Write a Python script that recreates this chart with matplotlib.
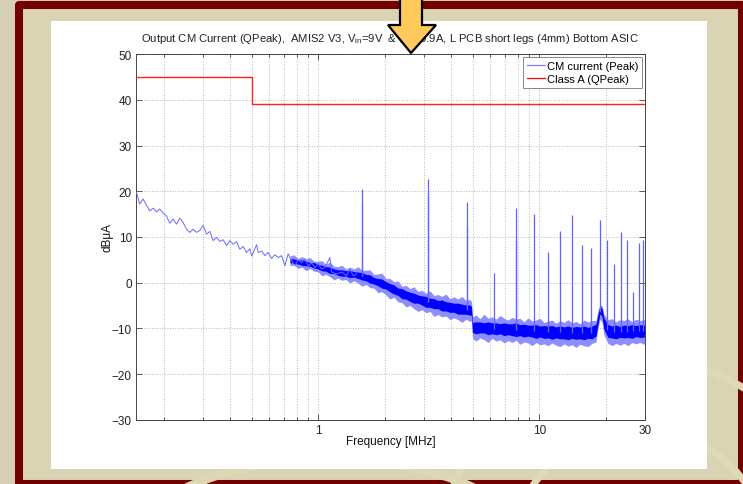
import numpy as np
import matplotlib
matplotlib.use("Agg")
import matplotlib.pyplot as plt
from matplotlib.patches import Rectangle, Polygon, Arc
from matplotlib.lines import Line2D
from matplotlib.ticker import NullFormatter

plt.rcParams['font.family'] = ['Liberation Sans', 'DejaVu Sans']
plt.rcParams['mathtext.fontset'] = 'custom'
plt.rcParams['mathtext.rm'] = 'Liberation Sans'
plt.rcParams['mathtext.default'] = 'regular'

# Class A limit (QPeak), dBuA
limite_f = [0.15, 0.5, 30]
limite_db = [45, 39, 39]

# CM current, low frequency part (single trace), MHz / dBuA
traza_f = [0.1508, 0.156, 0.1614, 0.1673, 0.1731, 0.1792, 0.1857, 0.1922, 0.1989, 0.2061,
           0.2133, 0.2208, 0.2288, 0.2367, 0.2449, 0.2538, 0.2627, 0.2719, 0.2818, 0.2915,
           0.3018, 0.3126, 0.3236, 0.3349, 0.3470, 0.3591, 0.3716, 0.3850, 0.3986, 0.4125,
           0.4273, 0.4422, 0.4577, 0.4742, 0.4909, 0.5000, 0.5263, 0.5353, 0.5545, 0.5738,
           0.5940, 0.6154, 0.6369, 0.6592, 0.6830, 0.7069, 0.7317, 0.7580, 0.7845, 0.8118,
           0.8411, 0.8706, 0.9012, 0.9335, 0.9662, 1.000, 1.036, 1.072, 1.129, 1.150,
           1.211, 1.276, 1.345, 1.391, 1.440, 1.492]
traza_db = [19.8, 17.2, 18.3, 17.0, 15.7, 16.3, 15.5, 16.1, 15.2, 14.6,
            13.0, 13.9, 12.8, 14.1, 13.2, 11.7, 11.0, 11.7, 11.0, 11.4,
            12.5, 10.6, 11.2, 9.2, 9.9, 9.0, 9.4, 8.1, 9.2, 8.4,
            9.0, 7.3, 7.9, 6.6, 7.4, 5.8, 8.3, 6.6, 6.9, 5.9,
            6.6, 5.3, 6.1, 5.5, 5.9, 3.7, 6.3, 4.8, 3.7, 5.0,
            4.4, 5.2, 3.7, 4.3, 3.3, 4.1, 3.0, 3.3, 5.5, 2.3,
            1.9, 2.3, 1.5, 3.0, 1.5, 1.9]

# CM current, dense part: centre of the noise band and its spread (dB)
banda_f = [0.745, 0.776, 0.809, 0.844, 0.880, 0.917, 0.956, 0.997, 1.039, 1.083,
           1.129, 1.178, 1.228, 1.280, 1.334, 1.391, 1.450, 1.512, 1.576, 1.643,
           1.713, 1.786, 1.862, 1.941, 2.024, 2.110, 2.199, 2.293, 2.390, 2.492,
           2.598, 2.708, 2.823, 2.943, 3.068, 3.199, 3.335, 3.476, 3.624, 3.778,
           3.939, 4.106, 4.281, 4.463, 4.652, 4.850, 4.93, 4.98, 5.17, 5.39,
           5.62, 5.86, 6.11, 6.37, 6.64, 6.92, 7.21, 7.52, 7.84, 8.17,
           8.52, 8.88, 9.26, 9.65, 10.06, 10.49, 10.94, 11.40, 11.88, 12.39,
           12.92, 13.46, 14.04, 14.63, 15.25, 15.90, 16.58, 17.28, 18.01, 18.39,
           18.78, 19.17, 19.57, 20.41, 21.27, 22.18, 23.12, 24.10, 25.13, 26.19,
           27.31, 28.47, 29.67, 30.0]
banda_centro = [4.8, 4.7, 4.5, 4.4, 4.2, 4.0, 3.8, 3.5, 3.2, 3.0,
                2.7, 2.5, 2.2, 2.1, 2.0, 1.9, 1.8, 1.6, 1.4, 1.1,
                0.8, 0.4, 0.1, -0.2, -0.6, -1.1, -1.5, -2.0, -2.4, -2.7,
                -3.1, -3.4, -3.6, -3.9, -4.2, -4.4, -4.6, -4.8, -5.0, -5.2,
                -5.4, -5.5, -5.7, -5.8, -5.9, -6.0, -6.2, -9.8, -9.9, -9.8,
                -9.9, -10.0, -10.0, -10.1, -10.1, -10.2, -10.2, -10.3, -10.3, -10.4,
                -10.5, -10.5, -10.6, -10.7, -10.7, -10.8, -10.8, -10.9, -10.9, -10.9,
                -11.0, -11.0, -11.0, -11.0, -11.0, -11.0, -11.0, -10.9, -10.4, -8.0,
                -6.0, -6.5, -9.0, -10.6, -10.8, -10.8, -10.8, -10.7, -10.7, -10.7,
                -10.6, -10.6, -10.6, -10.6]
banda_arriba = [1.0, 1.4, 0.8, 1.3, 1.0, 1.5, 0.9, 1.2, 1.6, 1.0,
                1.8, 1.1, 1.3, 1.7, 1.0, 1.5, 1.2, 1.9, 1.3, 1.6,
                2.0, 1.4, 1.8, 2.3, 1.5, 2.0, 1.7, 2.4, 1.6, 2.1,
                1.8, 2.5, 1.7, 2.2, 1.9, 2.6, 1.8, 2.2, 2.0, 2.7,
                1.9, 2.4, 2.1, 2.8, 2.0, 2.3, 2.0, 2.3, 2.8, 1.9,
                3.0, 2.2, 2.5, 2.1, 2.9, 2.4, 2.0, 2.7, 2.3, 2.6,
                1.9, 2.8, 2.2, 2.5, 2.9, 2.1, 2.4, 2.7, 2.0, 2.6,
                2.3, 2.9, 2.2, 2.5, 2.0, 2.8, 2.4, 2.6, 2.1, 2.0,
                1.2, 1.5, 2.0, 2.5, 2.9, 2.2, 2.7, 2.4, 2.8, 2.1,
                2.6, 2.3, 2.5, 2.4]
banda_abajo = [1.1, 0.8, 1.4, 1.0, 1.6, 0.9, 1.3, 1.1, 1.7, 1.2,
               1.4, 1.9, 1.2, 1.6, 1.3, 2.0, 1.4, 1.7, 2.2, 1.5,
               1.9, 1.6, 2.3, 1.8, 2.1, 2.5, 1.7, 2.2, 2.0, 2.6,
               1.9, 2.3, 2.7, 2.0, 2.4, 1.9, 2.8, 2.2, 2.5, 2.1,
               2.7, 2.2, 2.4, 2.9, 2.1, 2.5, 2.2, 2.4, 2.9, 2.3,
               2.6, 3.1, 2.2, 2.7, 2.4, 3.0, 2.5, 2.8, 2.3, 3.1,
               2.5, 2.7, 3.2, 2.4, 2.9, 2.6, 3.0, 2.3, 2.8, 3.1,
               2.4, 2.9, 2.6, 3.2, 2.5, 2.8, 3.0, 2.4, 2.6, 2.0,
               2.0, 2.2, 2.4, 2.7, 3.0, 2.5, 2.9, 2.6, 3.1, 2.4,
               2.8, 2.5, 2.9, 2.6]
banda_nucleo = [0.4, 0.5, 0.4, 0.6, 0.5, 0.4, 0.6, 0.5, 0.6, 0.5,
                0.7, 0.5, 0.6, 0.7, 0.6, 0.8, 0.6, 0.7, 0.8, 0.7,
                0.9, 0.7, 0.8, 1.0, 0.8, 0.9, 1.0, 0.8, 1.1, 0.9,
                1.0, 1.1, 0.9, 1.0, 1.2, 1.0, 1.1, 0.9, 1.2, 1.0,
                1.1, 1.0, 1.2, 1.1, 1.0, 1.1, 1.0, 1.1, 1.3, 1.2,
                1.1, 1.4, 1.2, 1.3, 1.1, 1.4, 1.2, 1.3, 1.5, 1.2,
                1.4, 1.2, 1.3, 1.5, 1.2, 1.4, 1.3, 1.5, 1.2, 1.4,
                1.3, 1.5, 1.2, 1.4, 1.3, 1.5, 1.2, 1.4, 1.3, 1.0,
                0.8, 0.9, 1.2, 1.4, 1.3, 1.5, 1.2, 1.4, 1.3, 1.5,
                1.2, 1.4, 1.3, 1.3]

# narrow harmonics (spikes): frequency MHz, peak dBuA
picos_f = [1.57, 1.58, 3.12, 3.14, 4.69, 4.71, 6.26, 7.80, 7.82, 9.4,
           10.9, 12.4, 14.1, 15.6, 17.1, 18.7, 20.3, 21.8, 23.4, 25.0,
           26.5, 28.1, 29.5]
picos_db = [20.5, 17.6, 19.0, 22.7, 17.6, 12.5, 2.0, 9.4, 16.3, 15.0,
            6.6, 11.4, 14.8, 8.3, 7.6, 13.6, 9.4, 4.1, 11.0, 9.3,
            -2.1, 8.6, 9.4]

titulo = ("Output CM Current (QPeak),  AMIS2 V3, V$_{in}$=9V  & I$_{out}$=0.9A, "
          "L PCB short legs (4mm) Bottom ASIC")

fig = plt.figure(figsize=(7.43, 4.85), dpi=100)
fig.patch.set_facecolor('#d6cfb6')

# slide background
bg = fig.add_axes([0, 0, 1, 1], zorder=0)
bg.set_xlim(0, 743)
bg.set_ylim(485, 0)
bg.axis('off')
bg.add_patch(Rectangle((19, 6), 722.5, 479, facecolor='#dbd4b4', edgecolor='#730000',
                       lw=5.8, joinstyle='round'))
for r in [130, 200]:
    bg.add_patch(Arc((640, 560), 2 * r, 2 * r, color='#dfd9b4', lw=5))
bg.add_patch(Arc((330, 590), 460, 260, color='#ddd7b3', lw=6))
bg.add_patch(Rectangle((51, 22), 656, 448, facecolor='white', edgecolor='none'))

# chart
ax = fig.add_axes([0.1830, 0.1326, 0.6851, 0.7536], zorder=1)
ax.set_xscale('log')
ax.set_axisbelow(True)

centro = np.array(banda_centro)
ax.fill_between(banda_f, centro - np.array(banda_abajo), centro + np.array(banda_arriba),
                color='#8e8eff', lw=0, zorder=2)
ax.fill_between(banda_f, centro - np.array(banda_nucleo), centro + np.array(banda_nucleo),
                color='#0000ff', lw=0, zorder=2)
ax.plot(traza_f, traza_db, color='#6a6aff', lw=0.7, zorder=3)

base = np.interp(np.log10(picos_f), np.log10(banda_f), centro)
ax.vlines(picos_f, base, picos_db, colors='#6262ff', lw=0.9, zorder=3)

ax.step(limite_f, limite_db, where='post', color='#ff2020', lw=1.0, zorder=4)

ax.set_xlim(0.15, 30)
ax.set_ylim(-30, 50)
ax.set_yticks(range(-30, 51, 10))
ax.set_xticks([1, 10, 30])
ax.set_xticklabels(['1', '10', '30'])
ax.set_xticks([0.2, 0.3, 0.4, 0.5, 0.6, 0.7, 0.8, 0.9,
               2, 3, 4, 5, 6, 7, 8, 9, 20], minor=True)
ax.xaxis.set_minor_formatter(NullFormatter())
ax.tick_params(which='both', direction='in', top=True, right=True,
               labelsize=8.5, labelcolor='#222222', color='#444444', width=0.6)
ax.tick_params(which='major', length=4, pad=3)
ax.tick_params(which='minor', length=2.5)
ax.grid(True, which='both', axis='x', ls=':', color='#b8b8b8', lw=0.7)
ax.grid(True, which='major', axis='y', ls=':', color='#b8b8b8', lw=0.7)
for s in ax.spines.values():
    s.set_color('#444444')
    s.set_linewidth(0.7)

ax.set_xlabel('Frequency [MHz]', fontsize=8.5, color='#111111')
ax.xaxis.set_label_coords(0.5, -0.042)
ax.set_ylabel('dB\u03bcA', fontsize=8.5, color='#111111')
ax.yaxis.set_label_coords(-0.045, 0.5)
ax.text(0.498, 1.036, titulo, transform=ax.transAxes, ha='center', va='baseline',
        fontsize=8.1, color='#222222')

manejadores = [Line2D([], [], color='#8080ff', lw=0.9), Line2D([], [], color='#ff0000', lw=0.9)]
leg = ax.legend(manejadores, ['CM current (Peak)', 'Class A (QPeak)'], loc='upper right',
                fontsize=8, fancybox=False, edgecolor='#888888', framealpha=1,
                borderaxespad=0.25, handlelength=1.6, handletextpad=0.2,
                borderpad=0.35, labelspacing=0.3)
leg.get_frame().set_linewidth(0.7)
leg.set_zorder(6)

# orange arrow on top
top = fig.add_axes([0, 0, 1, 1], zorder=3)
top.set_xlim(0, 743)
top.set_ylim(485, 0)
top.axis('off')
flecha = [(400, -2), (422, -2), (422, 26), (436, 26), (411, 54), (388, 26), (400, 26)]
top.add_patch(Polygon(flecha, closed=True, facecolor='#ffc95c', edgecolor='black',
                      lw=1.6, joinstyle='miter'))

fig.savefig('out.png', dpi=100, facecolor=fig.get_facecolor())
